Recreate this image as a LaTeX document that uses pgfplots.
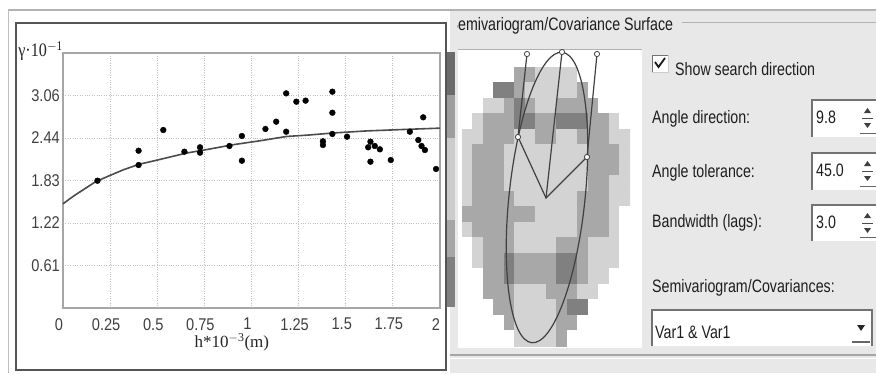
\documentclass[border=0pt]{standalone}
\usepackage{fontspec}
\setmainfont{Liberation Sans}
\newfontfamily\serif{Liberation Serif}
\usepackage{graphicx}
\usepackage{pgfplots}
\pgfplotsset{compat=1.18}
\definecolor{panel}{HTML}{E8E8E8}
\definecolor{txt}{HTML}{1E1E1E}
\definecolor{frame}{HTML}{555555}
\newcommand\gui[1]{\scalebox{0.79}[1]{\fontsize{18}{20}\selectfont\color{txt}#1}}
\newcommand\tl[1]{\scalebox{0.86}[1]{\fontsize{17}{19}\selectfont #1}}
\begin{document}
\begin{tikzpicture}[x=1pt,y=1pt]
\useasboundingbox (0,0) rectangle (876,-373);
\fill[white] (0,0) rectangle (876,-373);
\fill[panel] (450,-10) rectangle (876,-373);
\draw[black!30, line width=1.2] (8,-10) -- (876,-10);
\draw[black!25, line width=1] (8,-10) -- (8,-373);
\draw[frame, line width=2.5] (16,-23) rectangle (446,-370);
% colour strip
\fill[black!58] (447,-52) rectangle (455,-95);
\fill[black!38] (447,-95) rectangle (455,-138);
\fill[black!20] (447,-138) rectangle (455,-220);
\fill[black!35] (447,-220) rectangle (455,-257);
\fill[black!50] (447,-257) rectangle (455,-307);
% semivariogram plot
\begin{axis}[
  at={(63pt,-308pt)}, anchor=south west, scale only axis,
  width=377pt, height=255pt,
  xmin=0, xmax=2, ymin=0, ymax=3.672,
  axis line style={draw=black!35, line width=1.3pt},
  grid=major, grid style={dotted, black!25, line width=0.8pt},
  major tick length=0pt,
  xtick={0,0.25,0.5,0.75,1,1.25,1.5,1.75,2},
  xticklabels={{\tl{0}},{\tl{0.25}},{\tl{0.5}},{\tl{0.75}},{\tl{1}},{\tl{1.25}},{\tl{1.5}},{\tl{1.75}},{\tl{2}}},
  ytick={0.612,1.224,1.836,2.448,3.06},
  yticklabels={{\tl{0.61}},{\tl{1.22}},{\tl{1.83}},{\tl{2.44}},{\tl{3.06}}},
  xticklabel style={text=black!75, inner sep=0pt, anchor=north, yshift=-10pt, xshift=-4pt},
  yticklabel style={text=black!75, inner sep=0pt, anchor=east, xshift=-3pt},
  xlabel={\serif\fontsize{17}{19}\selectfont h*10\textsuperscript{$-$3}(m)},
  xlabel style={at={(axis description cs:0.448,0)}, anchor=north, yshift=-25pt, inner sep=0pt, text=black!85},
  ylabel={\scalebox{0.85}[1]{\serif\fontsize{19}{21}\selectfont γ·10\textsuperscript{$-$1}}},
  ylabel style={rotate=-90, at={(axis description cs:-0.119,0.985)}, anchor=base west, inner sep=0pt, text=black!85},
  /pgf/number format/assume math mode=true,
  clip=false,
]
\addplot[no marks, draw=black!70, line width=1.6pt] coordinates {
 (0,1.50) (0.05,1.60) (0.10,1.69) (0.174,1.82) (0.25,1.91) (0.32,1.99) (0.404,2.07)
 (0.50,2.13) (0.653,2.23) (0.78,2.29) (0.899,2.35) (1.05,2.41) (1.185,2.47)
 (1.30,2.49) (1.431,2.52) (1.61,2.55) (1.80,2.57) (2.0,2.59)};
\addplot[only marks, mark=*, mark size=2.9pt, black] coordinates {
 (0.183,1.833) (0.401,2.265) (0.401,2.059) (0.532,2.563) (0.644,2.251)
 (0.727,2.314) (0.727,2.237) (0.883,2.333) (0.949,2.477) (0.949,2.121)
 (1.074,2.578) (1.131,2.683) (1.184,3.091) (1.184,2.539) (1.238,2.971)
 (1.287,2.986) (1.379,2.347) (1.379,2.40) (1.429,3.115) (1.429,2.812)
 (1.429,2.506) (1.507,2.467) (1.631,2.395) (1.654,2.333) (1.681,2.285)
 (1.619,2.314) (1.631,2.107) (1.739,2.131) (1.840,2.539) (1.885,2.419)
 (1.902,2.333) (1.920,2.275) (1.911,2.746) (1.979,2.002)};
\end{axis}
% right panel
\begin{scope}
\clip (457,0) rectangle (876,-40);
\node[anchor=base west, inner sep=0] at (448.5,-30) {\gui{Semivariogram/Covariance Surface}};
\end{scope}
\draw[black!30, line width=1] (682,-22) -- (876,-22);
\fill[white] (458,-49) rectangle (642,-348);
\draw[black!30, line width=1] (458,-49) -- (642,-49);
\begin{axis}[
  at={(462pt,-67pt)}, anchor=north west, scale only axis,
  width=168pt, height=279pt, hide axis,
  xmin=-0.5, xmax=15.5, ymin=-0.5, ymax=17.5, y dir=reverse,
  colormap={guigray}{rgb255(0)=(255,255,255) rgb255(1)=(211,211,211) rgb255(2)=(168,168,168) rgb255(3)=(128,128,128)},
  point meta min=0, point meta max=3,
]
\addplot[matrix plot*, mesh/cols=16, point meta=explicit] coordinates {
(0,0)[0] (1,0)[0] (2,0)[0] (3,0)[0] (4,0)[0] (5,0)[2] (6,0)[2] (7,0)[1] (8,0)[1] (9,0)[1] (10,0)[1] (11,0)[0] (12,0)[0] (13,0)[0] (14,0)[0] (15,0)[0]
(0,1)[0] (1,1)[0] (2,1)[0] (3,1)[3] (4,1)[3] (5,1)[2] (6,1)[1] (7,1)[1] (8,1)[1] (9,1)[1] (10,1)[1] (11,1)[2] (12,1)[0] (13,1)[0] (14,1)[0] (15,1)[0]
(0,2)[0] (1,2)[0] (2,2)[1] (3,2)[1] (4,2)[2] (5,2)[3] (6,2)[2] (7,2)[1] (8,2)[1] (9,2)[2] (10,2)[2] (11,2)[2] (12,2)[2] (13,2)[0] (14,2)[0] (15,2)[0]
(0,3)[0] (1,3)[1] (2,3)[2] (3,3)[2] (4,3)[2] (5,3)[3] (6,3)[3] (7,3)[2] (8,3)[2] (9,3)[3] (10,3)[3] (11,3)[3] (12,3)[2] (13,3)[2] (14,3)[1] (15,3)[0]
(0,4)[1] (1,4)[1] (2,4)[2] (3,4)[2] (4,4)[2] (5,4)[1] (6,4)[1] (7,4)[2] (8,4)[2] (9,4)[1] (10,4)[1] (11,4)[2] (12,4)[2] (13,4)[2] (14,4)[1] (15,4)[1]
(0,5)[1] (1,5)[2] (2,5)[2] (3,5)[2] (4,5)[1] (5,5)[1] (6,5)[1] (7,5)[1] (8,5)[1] (9,5)[1] (10,5)[1] (11,5)[1] (12,5)[2] (13,5)[2] (14,5)[2] (15,5)[1]
(0,6)[1] (1,6)[2] (2,6)[2] (3,6)[2] (4,6)[1] (5,6)[1] (6,6)[1] (7,6)[1] (8,6)[1] (9,6)[1] (10,6)[1] (11,6)[1] (12,6)[2] (13,6)[2] (14,6)[2] (15,6)[1]
(0,7)[1] (1,7)[2] (2,7)[2] (3,7)[2] (4,7)[1] (5,7)[1] (6,7)[1] (7,7)[1] (8,7)[1] (9,7)[1] (10,7)[1] (11,7)[1] (12,7)[2] (13,7)[2] (14,7)[1] (15,7)[1]
(0,8)[1] (1,8)[2] (2,8)[2] (3,8)[2] (4,8)[2] (5,8)[1] (6,8)[1] (7,8)[1] (8,8)[1] (9,8)[1] (10,8)[1] (11,8)[2] (12,8)[2] (13,8)[2] (14,8)[1] (15,8)[1]
(0,9)[2] (1,9)[2] (2,9)[2] (3,9)[2] (4,9)[2] (5,9)[2] (6,9)[2] (7,9)[1] (8,9)[1] (9,9)[1] (10,9)[1] (11,9)[2] (12,9)[2] (13,9)[2] (14,9)[1] (15,9)[0]
(0,10)[1] (1,10)[2] (2,10)[2] (3,10)[2] (4,10)[2] (5,10)[1] (6,10)[1] (7,10)[1] (8,10)[1] (9,10)[1] (10,10)[1] (11,10)[2] (12,10)[2] (13,10)[2] (14,10)[1] (15,10)[0]
(0,11)[0] (1,11)[1] (2,11)[2] (3,11)[2] (4,11)[2] (5,11)[1] (6,11)[1] (7,11)[1] (8,11)[1] (9,11)[2] (10,11)[2] (11,11)[2] (12,11)[1] (13,11)[1] (14,11)[1] (15,11)[0]
(0,12)[0] (1,12)[1] (2,12)[2] (3,12)[2] (4,12)[3] (5,12)[2] (6,12)[2] (7,12)[2] (8,12)[2] (9,12)[3] (10,12)[3] (11,12)[2] (12,12)[1] (13,12)[1] (14,12)[1] (15,12)[0]
(0,13)[0] (1,13)[0] (2,13)[2] (3,13)[2] (4,13)[3] (5,13)[2] (6,13)[2] (7,13)[2] (8,13)[2] (9,13)[3] (10,13)[3] (11,13)[2] (12,13)[1] (13,13)[1] (14,13)[0] (15,13)[0]
(0,14)[0] (1,14)[0] (2,14)[2] (3,14)[2] (4,14)[2] (5,14)[1] (6,14)[1] (7,14)[1] (8,14)[2] (9,14)[2] (10,14)[2] (11,14)[1] (12,14)[1] (13,14)[0] (14,14)[0] (15,14)[0]
(0,15)[0] (1,15)[0] (2,15)[0] (3,15)[2] (4,15)[2] (5,15)[1] (6,15)[1] (7,15)[1] (8,15)[1] (9,15)[2] (10,15)[3] (11,15)[3] (12,15)[0] (13,15)[0] (14,15)[0] (15,15)[0]
(0,16)[0] (1,16)[0] (2,16)[0] (3,16)[0] (4,16)[2] (5,16)[1] (6,16)[1] (7,16)[1] (8,16)[1] (9,16)[2] (10,16)[2] (11,16)[0] (12,16)[0] (13,16)[0] (14,16)[0] (15,16)[0]
(0,17)[0] (1,17)[0] (2,17)[0] (3,17)[0] (4,17)[0] (5,17)[1] (6,17)[1] (7,17)[1] (8,17)[1] (9,17)[2] (10,17)[0] (11,17)[0] (12,17)[0] (13,17)[0] (14,17)[0] (15,17)[0]
};
\end{axis}
% search direction overlay
\begin{scope}[draw=black!75, line width=1.2pt]
\draw[rotate around={-6:(547,-197.5)}] (547,-197.5) ellipse [x radius=38, y radius=146];
\draw (546,-198) -- (562,-52);
\draw (518,-137) -- (546,-198) -- (587,-157);
\draw (527,-54) -- (518,-137);
\draw (597,-54) -- (587,-157);
\foreach \p in {(527,-54),(562,-52),(597,-54),(518,-137),(587,-157)}
  \draw[fill=white, line width=0.8pt] \p circle (2.6);
\end{scope}
% checkbox
\fill[white] (652,-55) rectangle (668,-72);
\draw[black!55, line width=1] (652,-72) -- (652,-55) -- (668,-55);
\draw[black!20, line width=1] (668,-55) -- (668,-72) -- (652,-72);
\draw[black!90, line width=1.8pt] (655,-62) -- (658.5,-67) -- (665,-58);
\node[anchor=base west, inner sep=0] at (675,-75) {\gui{Show search direction}};
\node[anchor=base west, inner sep=0] at (652,-123) {\gui{Angle direction:}};
\node[anchor=base west, inner sep=0] at (652,-177) {\gui{Angle tolerance:}};
\node[anchor=base west, inner sep=0] at (652,-227) {\gui{Bandwidth (lags):}};
\node[anchor=base west, inner sep=0] at (652,-292) {\gui{Semivariogram/Covariances:}};
% spin boxes
\foreach \t/\b/\v in {100/137/9.8, 153/190/45.0, 205/241/3.0}{
  \fill[white] (812,-\t) rectangle (876,-\b);
  \draw[black!55, line width=1.2] (812,-\b) -- (812,-\t) -- (876,-\t);
  \draw[black!70, line width=1] (862,-\t-18.5) -- (873,-\t-18.5);
  \fill[black!75] (864,-\t-13) -- (871,-\t-13) -- (867.5,-\t-8) -- cycle;
  \fill[black!75] (864,-\t-23) -- (871,-\t-23) -- (867.5,-\t-28) -- cycle;
  \draw[black!60, line width=1] (860,-\b+4) -- (876,-\b+4);
  \node[anchor=base west, inner sep=0] at (816,-\t-23.5) {\gui{\v}};
}
% drop-down
\fill[white] (652,-310) rectangle (872,-346);
\draw[black!55, line width=1.2] (652,-346) -- (652,-310) -- (872,-310) -- (872,-346);
\node[anchor=base west, inner sep=0] at (655,-338) {\gui{Var1 \& Var1}};
\fill[black!85] (857,-325) -- (865,-325) -- (861,-331) -- cycle;
\draw[black!60, line width=1.2] (852,-342) -- (870,-342);
\draw[black!35, line width=1.2] (450,-355) -- (876,-355);
\draw[white, line width=1] (450,-358) -- (876,-358);
\end{tikzpicture}
\end{document}
